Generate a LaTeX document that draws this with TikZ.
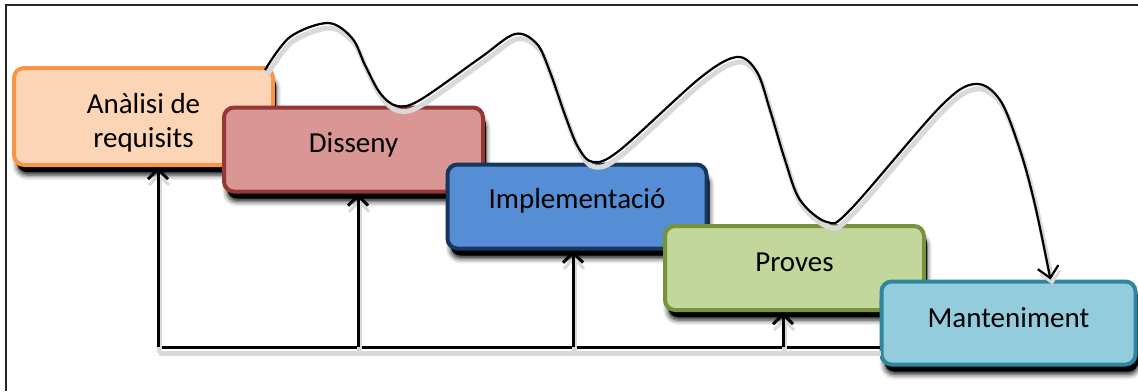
\documentclass[tikz,border=0pt]{standalone}
\usepackage{fontspec}
\setmainfont{Carlito}
\usetikzlibrary{arrows.meta,shadows,shadows.blur,calc}
\definecolor{reqF}{HTML}{FBD5B5}\definecolor{reqD}{HTML}{F79646}
\definecolor{disF}{HTML}{D99694}\definecolor{disD}{HTML}{953735}
\definecolor{impF}{HTML}{558ED5}\definecolor{impD}{HTML}{17375E}
\definecolor{proF}{HTML}{C3D69B}\definecolor{proD}{HTML}{77933C}
\definecolor{manF}{HTML}{93CDDD}\definecolor{manD}{HTML}{31859C}
\begin{document}
\begin{tikzpicture}[x=1pt,y=-1pt,
  box/.style={rectangle, rounded corners=10pt, line width=4pt,
    minimum width=259pt, minimum height=84pt, inner sep=0pt,
    font=\fontsize{29}{34}\selectfont,
    blur shadow={shadow xshift=3pt, shadow yshift=-10pt, shadow blur radius=5pt, shadow opacity=90},
    drop shadow={shadow xshift=3pt, shadow yshift=-7pt, fill=black, opacity=1}},
  fbline/.style={line width=3pt,
    preaction={draw=black!15, line width=5pt, transform canvas={xshift=1pt,yshift=-6pt}}},
  fbarrow/.style={fbline, -{Straight Barb[length=10pt,width=20pt,line width=3pt]}},
  wave/.style={line width=2.2pt, -{Straight Barb[length=11pt,width=21pt,line width=2.2pt]},
    preaction={draw=black!15, line width=5pt, transform canvas={xshift=2pt,yshift=-5pt}}},
]
\useasboundingbox (0,0) rectangle (1138,391);
\draw[line width=1.6pt, black!85] (6,391) -- (6,5) -- (1138,5);

\node[box, fill=reqF, draw=reqD, minimum height=97pt] (req) at (143.5,116.5)
  {\raisebox{-30.5pt}[0pt][0pt]{\begin{tabular}[b]{@{}c@{}}Anàlisi de\\requisits\end{tabular}}};
\node[box, fill=disF, draw=disD] (dis) at (353.5,149.5) {\raisebox{-2.5pt}[0pt][0pt]{Disseny}};
\node[box, fill=impF, draw=impD] (imp) at (577,206.5) {\raisebox{-1.5pt}[0pt][0pt]{Implementació}};
\node[box, fill=proF, draw=proD] (pro) at (794.5,268) {\raisebox{-3pt}[0pt][0pt]{Proves}};
\node[box, fill=manF, draw=manD, minimum width=254pt, minimum height=83pt] (man) at (1008.5,323) {\raisebox{-4pt}[0pt][0pt]{Manteniment}};

\coordinate (b1) at (158,347);
\coordinate (b2) at (358,347);
\coordinate (b3) at (573,347);
\coordinate (b4) at (783,347);

\draw[fbline] (b1) -- (b1 -| man.west);
\draw[fbarrow] (b1) -- (b1 |- req.south);
\draw[fbarrow] (b2) -- (b2 |- dis.south);
\draw[fbarrow] (b3) -- (b3 |- imp.south);
\draw[fbarrow] (b4) -- (b4 |- pro.south);

\coordinate (ws) at ($(req.north east)+(-10pt,-4pt)$);
\coordinate (we) at ([xshift=42pt]man.north);
\draw[wave] plot[smooth, tension=0.55] coordinates {(ws) (290,37) (328,23) (352,38) (365,65)
  (380,93) (397,106) (420,100) (480,58) (515,34) (537,44) (550,72) (565,115)
  (578,147) (593,162) (620,150) (700,78) (737,57) (757,72) (770,110) (785,160)
  (800,200) (827,222) (850,210) (940,107) (975,84) (1000,100) (1020,150) (1035,205) (we)};
\end{tikzpicture}
\end{document}
